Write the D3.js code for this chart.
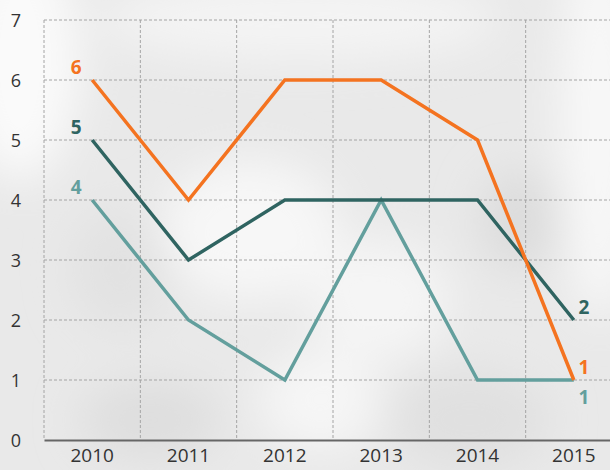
<!DOCTYPE html>
<html>
<head>
<meta charset="utf-8">
<script src="https://cdn.jsdelivr.net/npm/d3@7"></script>
<style>
	body { margin: 0; padding: 0; overflow: hidden; }
	svg { display: block; }
</style>
</head>
<body>
<script>
var years = ['2010', '2011', '2012', '2013', '2014', '2015']
var orangeSeries = [6, 4, 6, 6, 5, 1]
var darkSeries = [5, 3, 4, 4, 4, 2]
var lightSeries = [4, 2, 1, 4, 1, 1]
var yTicks = [0, 1, 2, 3, 4, 5, 6, 7]

var series = [
	{ name: 'light', values: lightSeries, color: '#639f9d', endDy: 24 },
	{ name: 'dark', values: darkSeries, color: '#2f6461', endDy: -6 },
	{ name: 'orange', values: orangeSeries, color: '#f47320', endDy: -6 }
]

var W = 610, H = 470

var svg = d3.select('body').append('svg')
	.attr('width', W)
	.attr('height', H)

// blurry photo-ish background
var defs = svg.append('defs')
defs.append('filter').attr('id', 'blur')
	.append('feGaussianBlur').attr('stdDeviation', 22)

svg.append('rect').attr('width', W).attr('height', H).attr('fill', '#e9e9e9')
var bg = svg.append('g').attr('filter', 'url(#blur)')
var blobs = [
	[20, 60, 60, 120, '#fafafa'], [300, 20, 200, 40, '#f4f4f4'],
	[250, 230, 90, 70, '#f7f7f7'], [380, 300, 70, 60, '#f5f5f5'],
	[600, 120, 40, 200, '#f8f8f8'], [150, 420, 70, 40, '#dedede'],
	[470, 420, 80, 50, '#e0e0e0'], [520, 220, 40, 50, '#dcdcdc'],
	[120, 270, 50, 60, '#e2e2e2'], [320, 400, 60, 50, '#f6f6f6']
]
bg.selectAll('ellipse').data(blobs).enter().append('ellipse')
	.attr('cx', function(d) { return d[0] })
	.attr('cy', function(d) { return d[1] })
	.attr('rx', function(d) { return d[2] })
	.attr('ry', function(d) { return d[3] })
	.attr('fill', function(d) { return d[4] })

var x = d3.scaleBand().domain(years).range([44, 622])
var y = d3.scaleLinear().domain([0, 7]).range([440, 20])

var grid = svg.append('g')
grid.selectAll('.hg').data(yTicks.slice(1)).enter().append('line')
	.attr('x1', 44).attr('x2', W)
	.attr('y1', function(d) { return y(d) }).attr('y2', function(d) { return y(d) })
	.attr('stroke', '#a4a4a4').attr('stroke-width', 1).attr('stroke-dasharray', '3,2')
grid.selectAll('.vg').data(years).enter().append('line')
	.attr('x1', function(d) { return x(d) }).attr('x2', function(d) { return x(d) })
	.attr('y1', y(7)).attr('y2', y(0))
	.attr('stroke', '#a4a4a4').attr('stroke-width', 1).attr('stroke-dasharray', '3,2')

// axes
var yAxis = svg.append('g')
	.attr('transform', 'translate(16,0)')
	.call(d3.axisLeft(y).tickValues(yTicks).tickFormat(d3.format('d')).tickSize(0).tickPadding(0))
yAxis.select('.domain').remove()
yAxis.selectAll('text')
	.attr('font-family', '"Open Sans", sans-serif')
	.attr('font-size', 18)
	.attr('fill', '#333')
	.attr('text-anchor', 'middle')
	.attr('dy', '0.35em')

var xAxis = svg.append('g')
	.attr('transform', 'translate(0,' + y(0) + ')')
	.call(d3.axisBottom(x).tickSize(0).tickPadding(9))
xAxis.select('.domain').attr('stroke', '#666').attr('stroke-width', 2)
xAxis.selectAll('text')
	.attr('font-family', '"Open Sans", sans-serif')
	.attr('font-size', 19)
	.attr('fill', '#333')

var line = d3.line()
	.x(function(d, i) { return x(years[i]) + x.bandwidth() / 2 })
	.y(function(d) { return y(d) })

var lines = svg.append('g')
lines.selectAll('path').data(series).enter().append('path')
	.attr('d', function(d) { return line(d.values) })
	.attr('fill', 'none')
	.attr('stroke', function(d) { return d.color })
	.attr('stroke-width', 3.5)
	.attr('stroke-linejoin', 'miter')

var labels = svg.append('g')
	.attr('font-family', '"Open Sans", sans-serif')
	.attr('font-weight', 'bold')
	.attr('font-size', 19)
labels.selectAll('.start').data(series).enter().append('text')
	.attr('x', x(years[0]) + x.bandwidth() / 2 - 16)
	.attr('y', function(d) { return y(d.values[0]) - 6 })
	.attr('text-anchor', 'middle')
	.attr('fill', function(d) { return d.color })
	.text(function(d) { return d.values[0] })
labels.selectAll('.end').data(series).enter().append('text')
	.attr('x', x(years[5]) + x.bandwidth() / 2 + 10)
	.attr('y', function(d) { return y(d.values[5]) + d.endDy })
	.attr('text-anchor', 'middle')
	.attr('fill', function(d) { return d.color })
	.text(function(d) { return d.values[5] })
</script>
</body>
</html>
